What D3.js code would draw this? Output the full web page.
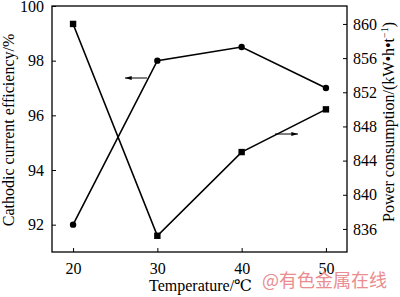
<!DOCTYPE html>
<html>
<head>
<meta charset="utf-8">
<script src="https://cdn.jsdelivr.net/npm/d3@7"></script>
<style>
  body { margin: 0; background: #fff; }
  svg text { font-family: 'Liberation Serif', 'Times New Roman', 'DejaVu Serif', serif; }
</style>
</head>
<body>
<div id="root"></div>
<script>
var temperatures = [20, 30, 40, 50];
var efficiency = [92.0, 98.0, 98.5, 97.0];
var power = [860.0, 835.2, 845.0, 850.0];
var leftTicks = [92, 94, 96, 98, 100];
var rightTicks = [836, 840, 844, 848, 852, 856, 860];

var serif = "'Liberation Serif', 'Times New Roman', 'DejaVu Serif', serif";

var margin = { top: 6, right: 53, bottom: 45, left: 52 },
  width = 400 - margin.left - margin.right,
  height = 297 - margin.top - margin.bottom;

var svg = d3.select('#root')
  .append('svg')
    .attr('width', 400)
    .attr('height', 297)
    .attr('font-family', serif);

var g = svg.append('g')
  .attr('transform', 'translate(' + margin.left + ', ' + margin.top + ')');

var xScale = d3.scaleLinear()
  .domain([17.5, 52.5])
  .range([0, width]);

var yLeft = d3.scaleLinear()
  .domain([91, 100])
  .range([height, 0]);

var yRight = d3.scaleLinear()
  .domain([833.3, 862.1])
  .range([height, 0]);

// frame
g.append('rect')
  .attr('width', width)
  .attr('height', height)
  .attr('fill', 'none')
  .attr('stroke', '#000')
  .attr('stroke-width', 1.3);

var styleAxis = sel => {
  sel.attr('font-family', serif);
  sel.select('.domain').remove();
  sel.selectAll('line').attr('stroke', '#000').attr('stroke-width', 1);
  sel.selectAll('text')
    .attr('font-size', '16px')
    .attr('fill', '#000')
    .attr('font-family', serif);
};

g.append('g')
  .attr('transform', 'translate(0, ' + height + ')')
  .call(d3.axisBottom(xScale).tickValues(temperatures).tickSize(-4).tickPadding(11))
  .call(styleAxis);

g.append('g')
  .call(d3.axisLeft(yLeft).tickValues(leftTicks).tickSize(-4).tickPadding(8))
  .call(styleAxis);

g.append('g')
  .attr('transform', 'translate(' + width + ', 0)')
  .call(d3.axisRight(yRight).tickValues(rightTicks).tickSize(-4).tickPadding(6))
  .call(styleAxis);

// axis labels
g.append('text')
  .attr('x', width / 2 + 1)
  .attr('y', height + 39)
  .attr('font-size', '16px')
  .attr('text-anchor', 'middle')
  .text('Temperature/℃');

g.append('text')
  .attr('transform', 'rotate(-90)')
  .attr('x', -124)
  .attr('y', -38)
  .attr('font-size', '16px')
  .attr('text-anchor', 'middle')
  .text('Cathodic current efficiency/%');

var rightLabel = g.append('text')
  .attr('transform', 'rotate(-90)')
  .attr('x', -116)
  .attr('y', width + 47)
  .attr('font-size', '16px')
  .attr('text-anchor', 'middle');
rightLabel.append('tspan').text('Power consumption/(kW•h•t');
rightLabel.append('tspan').attr('font-size', '10px').attr('dy', -6).text('−1');
rightLabel.append('tspan').attr('dy', 6).text(')');

// lines
var effData = temperatures.map((t, i) => ({ t: t, v: efficiency[i] }));
var powData = temperatures.map((t, i) => ({ t: t, v: power[i] }));

g.append('path')
  .datum(effData)
  .attr('fill', 'none')
  .attr('stroke', '#000')
  .attr('stroke-width', 1.6)
  .attr('d', d3.line().x(d => xScale(d.t)).y(d => yLeft(d.v)));

g.append('path')
  .datum(powData)
  .attr('fill', 'none')
  .attr('stroke', '#000')
  .attr('stroke-width', 1.6)
  .attr('d', d3.line().x(d => xScale(d.t)).y(d => yRight(d.v)));

g.selectAll('circle')
  .data(effData)
  .enter()
  .append('circle')
    .attr('cx', d => xScale(d.t))
    .attr('cy', d => yLeft(d.v))
    .attr('r', 3.2)
    .attr('fill', '#000');

g.selectAll('rect.sq')
  .data(powData)
  .enter()
  .append('rect')
    .attr('class', 'sq')
    .attr('x', d => xScale(d.t) - 3.2)
    .attr('y', d => yRight(d.v) - 3.2)
    .attr('width', 6.4)
    .attr('height', 6.4)
    .attr('fill', '#000');

// arrows pointing at their axis
svg.append('defs').append('marker')
  .attr('id', 'head')
  .attr('viewBox', '0 0 10 6')
  .attr('refX', 10)
  .attr('refY', 3)
  .attr('markerWidth', 7)
  .attr('markerHeight', 4)
  .attr('markerUnits', 'userSpaceOnUse')
  .attr('orient', 'auto')
  .append('path')
    .attr('d', 'M0,0L10,3L0,6Z')
    .attr('fill', '#000');

svg.append('line')
  .attr('x1', 147).attr('y1', 78)
  .attr('x2', 125).attr('y2', 78)
  .attr('stroke', '#000')
  .attr('stroke-width', 1)
  .attr('marker-end', 'url(#head)');

svg.append('line')
  .attr('x1', 275).attr('y1', 134)
  .attr('x2', 298).attr('y2', 134)
  .attr('stroke', '#000')
  .attr('stroke-width', 1)
  .attr('marker-end', 'url(#head)');

// watermark
svg.append('text')
  .attr('x', 262)
  .attr('y', 287)
  .attr('font-size', '18px')
  .attr('fill', '#ea8c90')
  .style('font-family', "'Noto Sans CJK SC', sans-serif")
  .text('@有色金属在线');
</script>
</body>
</html>
